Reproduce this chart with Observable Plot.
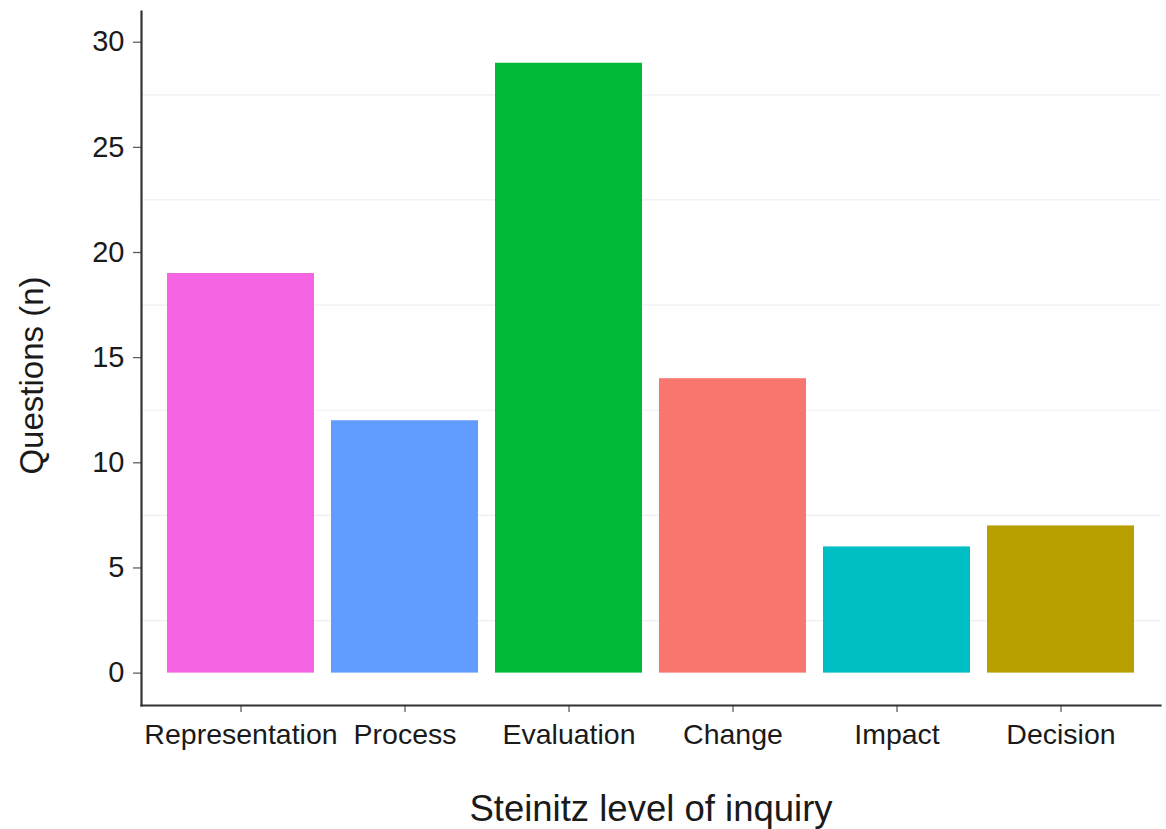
<!DOCTYPE html>
<html>
<head>
<meta charset="utf-8">
<script src="https://cdn.jsdelivr.net/npm/d3@7"></script>
<script src="https://cdn.jsdelivr.net/npm/@observablehq/plot@0.6"></script>
<style>
  html, body { margin: 0; padding: 0; background: #fff; }
  #chart { width: 1166px; height: 829px; }
</style>
</head>
<body>
<div id="chart"></div>
<script>
const categories = ["Representation", "Process", "Evaluation", "Change", "Impact", "Decision"];
const questions = [19, 12, 29, 14, 6, 7];
const barColors = ["#F564E3", "#619CFF", "#00BA38", "#F8766D", "#00BFC4", "#B79F00"];
const yTicks = [0, 5, 10, 15, 20, 25, 30];
const minorGrid = [2.5, 7.5, 12.5, 17.5, 22.5, 27.5];
const xTitle = "Steinitz level of inquiry";
const yTitle = "Questions (n)";

const data = categories.map((c, i) => ({category: c, n: questions[i]}));

const chart = Plot.plot({
  width: 1166,
  height: 829,
  marginLeft: 141,
  marginRight: 6,
  marginTop: 11,
  marginBottom: 124,
  style: {fontFamily: "'Liberation Sans', Arial, sans-serif", background: "#fff", color: "#1a1a1a"},
  x: {domain: categories, paddingInner: 0.106, paddingOuter: 0.15, label: null},
  y: {domain: [-1.54, 31.46], label: null},
  color: {domain: categories, range: barColors},
  marks: [
    Plot.ruleY(minorGrid, {stroke: "#efefef", strokeWidth: 1.2}),
    Plot.barY(data, {x: "category", y1: 0, y2: "n", fill: "category"}),
    Plot.axisY({ticks: yTicks, tickSize: 8, tickPadding: 9, fontSize: 29, stroke: "#555", strokeWidth: 1.2, fill: "#1a1a1a", label: null}),
    Plot.axisX({tickSize: 7, tickPadding: 11, fontSize: 28.5, stroke: "#555", strokeWidth: 1.2, fill: "#1a1a1a", label: null}),
    Plot.frame({anchor: "left", stroke: "#333", strokeWidth: 2.2}),
    Plot.frame({anchor: "bottom", stroke: "#333", strokeWidth: 2.2}),
    Plot.text([xTitle], {frameAnchor: "bottom", textAnchor: "middle", lineAnchor: "middle", dy: 104, fontSize: 36.5, fill: "#1a1a1a"}),
    Plot.text([yTitle], {frameAnchor: "left", textAnchor: "middle", lineAnchor: "middle", rotate: -90, dx: -109, dy: 17, fontSize: 33, fill: "#1a1a1a"})
  ]
});
document.getElementById("chart").appendChild(chart);
</script>
</body>
</html>
